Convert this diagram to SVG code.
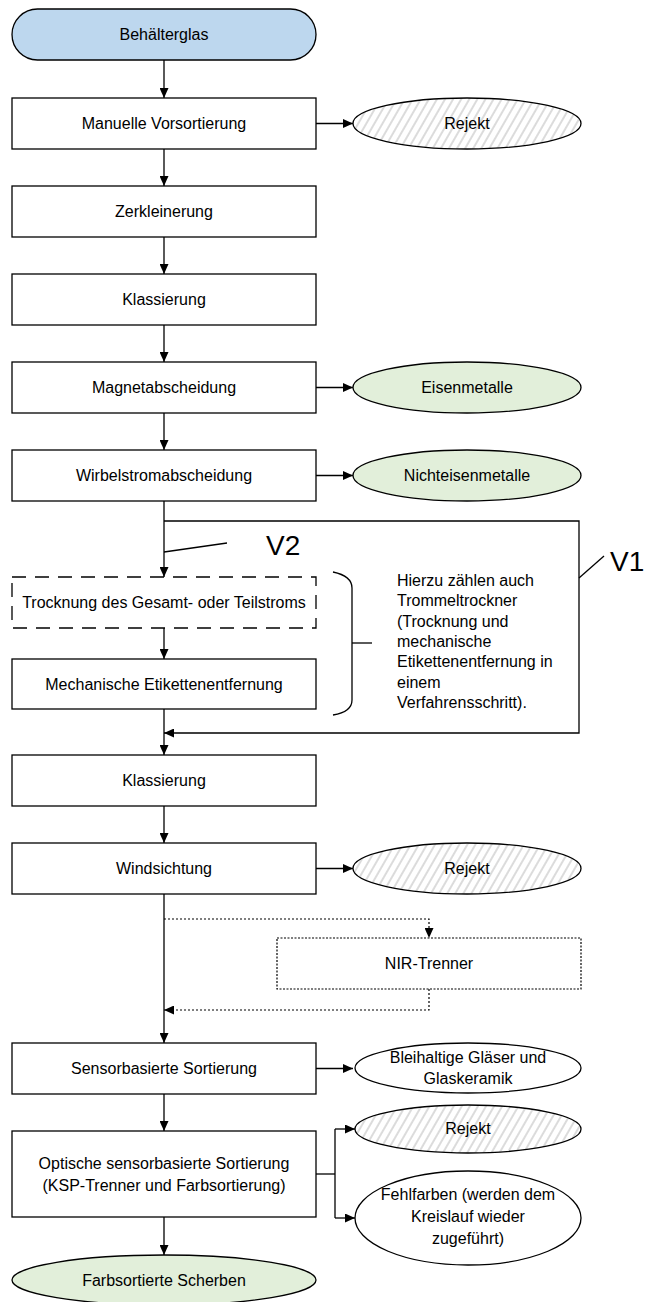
<svg xmlns="http://www.w3.org/2000/svg" width="648" height="1302" viewBox="0 0 648 1302">
  <style>
    .box { fill: #ffffff; stroke: #000000; stroke-width: 1.3; }
    .dash { fill: #ffffff; stroke: #000000; stroke-width: 1.3; stroke-dasharray: 14 9; }
    .dot { fill: #ffffff; stroke: #000000; stroke-width: 1.2; stroke-dasharray: 2 1.5; }
    .out { fill: #ffffff; stroke: #000000; stroke-width: 1.3; }
    .hatch { fill: url(#hatch); stroke: #000000; stroke-width: 1.3; }
    .green { fill: #e2efda; stroke: #000000; stroke-width: 1.3; }
    .blue { fill: #bdd7ee; stroke: #000000; stroke-width: 1.3; }
    .t { font-family: "Liberation Sans", Arial, sans-serif; font-size: 16px; fill: #000000; text-anchor: middle; }
    .tl { font-family: "Liberation Sans", Arial, sans-serif; font-size: 16px; fill: #000000; text-anchor: start; }
    .big { font-family: "Liberation Sans", Arial, sans-serif; font-size: 28px; fill: #000000; }
    .ln { fill: none; stroke: #000000; stroke-width: 1.3; }
    .dl { fill: none; stroke: #000000; stroke-width: 1.2; stroke-dasharray: 2 2; }
  </style>
  <defs>
    <pattern id="hatch" patternUnits="userSpaceOnUse" width="7" height="7" patternTransform="rotate(30)">
      <rect width="7" height="7" fill="#ffffff"/>
      <line x1="1" y1="0" x2="1" y2="7" stroke="#a6a6a6" stroke-width="0.8"/>
    </pattern>
    <marker id="arr" markerUnits="userSpaceOnUse" markerWidth="10" markerHeight="9" refX="10" refY="4.5" orient="auto">
      <path d="M0,0 L10,4.5 L0,9 z" fill="#000000"/>
    </marker>
  </defs>

  <!-- connectors -->
  <g id="connectors">
    <line class="ln" x1="164" y1="60" x2="164" y2="98" marker-end="url(#arr)"/>
    <line class="ln" x1="164" y1="149" x2="164" y2="186" marker-end="url(#arr)"/>
    <line class="ln" x1="164" y1="237" x2="164" y2="274" marker-end="url(#arr)"/>
    <line class="ln" x1="164" y1="325" x2="164" y2="362" marker-end="url(#arr)"/>
    <line class="ln" x1="164" y1="413" x2="164" y2="450" marker-end="url(#arr)"/>
    <line class="ln" x1="164" y1="501" x2="164" y2="577" marker-end="url(#arr)"/>
    <line class="ln" x1="164" y1="628" x2="164" y2="659" marker-end="url(#arr)"/>
    <line class="ln" x1="164" y1="709" x2="164" y2="755" marker-end="url(#arr)"/>
    <line class="ln" x1="164" y1="806" x2="164" y2="843" marker-end="url(#arr)"/>
    <line class="ln" x1="164" y1="894" x2="164" y2="1043" marker-end="url(#arr)"/>
    <line class="ln" x1="164" y1="1094" x2="164" y2="1131" marker-end="url(#arr)"/>
    <line class="ln" x1="164" y1="1217" x2="164" y2="1255" marker-end="url(#arr)"/>

    <!-- side outputs -->
    <line class="ln" x1="316" y1="123.5" x2="353" y2="123.5" marker-end="url(#arr)"/>
    <line class="ln" x1="316" y1="387.5" x2="353" y2="387.5" marker-end="url(#arr)"/>
    <line class="ln" x1="316" y1="475.5" x2="353" y2="475.5" marker-end="url(#arr)"/>
    <line class="ln" x1="316" y1="868.5" x2="353" y2="868.5" marker-end="url(#arr)"/>
    <line class="ln" x1="316" y1="1068.5" x2="353" y2="1068.5" marker-end="url(#arr)"/>
    <polyline class="ln" points="316,1174 335,1174"/>
    <polyline class="ln" points="335,1129 335,1218"/>
    <line class="ln" x1="335" y1="1129" x2="355" y2="1129" marker-end="url(#arr)"/>
    <line class="ln" x1="335" y1="1218" x2="355" y2="1218" marker-end="url(#arr)"/>

    <!-- bypass V1 -->
    <polyline class="ln" points="164,521 579,521 579,733 164,733" marker-end="url(#arr)"/>

    <!-- optional NIR branch -->
    <polyline class="dl" points="164,919 429,919 429,938" marker-end="url(#arr)"/>
    <polyline class="dl" points="429,989 429,1010 164,1010" marker-end="url(#arr)"/>

    <!-- brace -->
    <path class="ln" d="M333,572 Q352,576 352,588 L352,700 Q352,712 333,715"/>
    <line class="ln" x1="352" y1="643" x2="372" y2="643"/>

    <!-- label pointers -->
    <line class="ln" x1="164" y1="552" x2="227" y2="543"/>
    <line class="ln" x1="579" y1="578" x2="604" y2="556"/>
  </g>

  <g id="n-behaelterglas">
    <rect class="blue" x="12" y="9" width="304" height="51" rx="25.5" ry="25.5"/>
    <text class="t" x="164" y="40">Behälterglas</text>
  </g>
  <g id="n-vorsortierung">
    <rect class="box" x="12" y="98" width="304" height="51"/>
    <text class="t" x="164" y="129">Manuelle Vorsortierung</text>
  </g>
  <g id="n-rejekt1">
    <ellipse class="hatch" cx="467" cy="123.5" rx="114" ry="25.5"/>
    <text class="t" x="467" y="129">Rejekt</text>
  </g>
  <g id="n-zerkleinerung">
    <rect class="box" x="12" y="186" width="304" height="51"/>
    <text class="t" x="164" y="217">Zerkleinerung</text>
  </g>
  <g id="n-klassierung1">
    <rect class="box" x="12" y="274" width="304" height="51"/>
    <text class="t" x="164" y="305">Klassierung</text>
  </g>
  <g id="n-magnet">
    <rect class="box" x="12" y="362" width="304" height="51"/>
    <text class="t" x="164" y="393">Magnetabscheidung</text>
  </g>
  <g id="n-eisen">
    <ellipse class="green" cx="467" cy="387.5" rx="114" ry="25.5"/>
    <text class="t" x="467" y="393">Eisenmetalle</text>
  </g>
  <g id="n-wirbelstrom">
    <rect class="box" x="12" y="450" width="304" height="51"/>
    <text class="t" x="164" y="481">Wirbelstromabscheidung</text>
  </g>
  <g id="n-nichteisen">
    <ellipse class="green" cx="467" cy="475.5" rx="114" ry="25.5"/>
    <text class="t" x="467" y="481">Nichteisenmetalle</text>
  </g>
  <g id="n-trocknung">
    <rect class="dash" x="12" y="577" width="304" height="51"/>
    <text class="t" x="164" y="608">Trocknung des Gesamt- oder Teilstroms</text>
  </g>
  <g id="n-etiketten">
    <rect class="box" x="12" y="659" width="304" height="50"/>
    <text class="t" x="164" y="689.5">Mechanische Etikettenentfernung</text>
  </g>
  <g id="n-hinweis">
    <text class="tl" x="397" y="586">Hierzu zählen auch</text>
    <text class="tl" x="397" y="606">Trommeltrockner</text>
    <text class="tl" x="397" y="627">(Trocknung und</text>
    <text class="tl" x="397" y="647">mechanische</text>
    <text class="tl" x="397" y="667">Etikettenentfernung in</text>
    <text class="tl" x="397" y="688">einem</text>
    <text class="tl" x="397" y="708">Verfahrensschritt).</text>
  </g>
  <g id="n-v2">
    <text class="big" x="266" y="555">V2</text>
  </g>
  <g id="n-v1">
    <text class="big" x="610" y="571">V1</text>
  </g>
  <g id="n-klassierung2">
    <rect class="box" x="12" y="755" width="304" height="51"/>
    <text class="t" x="164" y="786">Klassierung</text>
  </g>
  <g id="n-windsichtung">
    <rect class="box" x="12" y="843" width="304" height="51"/>
    <text class="t" x="164" y="874">Windsichtung</text>
  </g>
  <g id="n-rejekt2">
    <ellipse class="hatch" cx="467" cy="868.5" rx="114" ry="25.5"/>
    <text class="t" x="467" y="874">Rejekt</text>
  </g>
  <g id="n-nir">
    <rect class="dot" x="277" y="938" width="304" height="51"/>
    <text class="t" x="429" y="969">NIR-Trenner</text>
  </g>
  <g id="n-sensor">
    <rect class="box" x="12" y="1043" width="304" height="51"/>
    <text class="t" x="164" y="1074">Sensorbasierte Sortierung</text>
  </g>
  <g id="n-blei">
    <ellipse class="out" cx="468" cy="1068" rx="113" ry="25"/>
    <text class="t" x="468" y="1063">Bleihaltige Gläser und</text>
    <text class="t" x="468" y="1084">Glaskeramik</text>
  </g>
  <g id="n-optisch">
    <rect class="box" x="12" y="1131" width="304" height="86"/>
    <text class="t" x="164" y="1169">Optische sensorbasierte Sortierung</text>
    <text class="t" x="164" y="1191">(KSP-Trenner und Farbsortierung)</text>
  </g>
  <g id="n-rejekt3">
    <ellipse class="hatch" cx="468" cy="1129" rx="113" ry="24"/>
    <text class="t" x="468" y="1134">Rejekt</text>
  </g>
  <g id="n-fehlfarben">
    <ellipse class="out" cx="468" cy="1218" rx="113" ry="47"/>
    <text class="t" x="468" y="1200">Fehlfarben (werden dem</text>
    <text class="t" x="468" y="1222">Kreislauf wieder</text>
    <text class="t" x="468" y="1244">zugeführt)</text>
  </g>
  <g id="n-scherben">
    <ellipse class="green" cx="164" cy="1280" rx="152" ry="25"/>
    <text class="t" x="164" y="1286">Farbsortierte Scherben</text>
  </g>
</svg>
